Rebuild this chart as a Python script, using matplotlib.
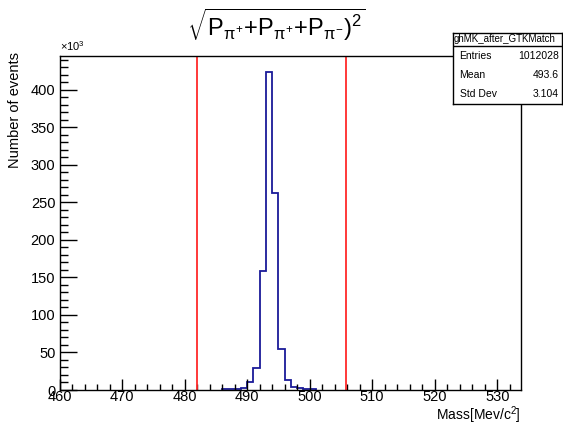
import matplotlib
matplotlib.use('Agg')
import matplotlib.pyplot as plt
import numpy as np
from matplotlib.ticker import MultipleLocator, FuncFormatter

plt.rcParams['font.family'] = ['Liberation Sans', 'DejaVu Sans']
plt.rcParams['mathtext.fontset'] = 'custom'
plt.rcParams['mathtext.rm'] = 'Liberation Sans'
plt.rcParams['mathtext.it'] = 'Liberation Sans'
plt.rcParams['mathtext.bf'] = 'Liberation Sans:bold'

# histogram contents (x10^3 events), 1 MeV bins
bin_edges = [486, 487, 488, 489, 490, 491, 492, 493, 494, 495, 496, 497, 498, 499, 500, 501]
counts = [0.7, 0.7, 0.7, 2.5, 10.0, 29.0, 159.0, 424.0, 262.0, 54.0, 13.0, 4.5, 2.5, 1.0, 1.0]
cut_lo = 482.0
cut_hi = 505.8
stats_name = 'ghMK_after_GTKMatch'
stats_rows = [('Entries', '1012028'), ('Mean', '493.6'), ('Std Dev', '3.104')]

W, H = 563, 424
fig = plt.figure(figsize=(W / 100, H / 100), dpi=100)
L, R, T, B = 59.5, 521, 56, 390
ax = fig.add_axes([L / W, 1 - B / H, (R - L) / W, (B - T) / H])

ax.stairs(counts, bin_edges, color='#1a1a99', lw=1.3)
ax.axvline(cut_lo, color='#ff2a2a', lw=1.3)
ax.axvline(cut_hi, color='#ff2a2a', lw=1.3)

ax.set_xlim(460, 533.8)
ax.set_ylim(0, 445)
ax.xaxis.set_major_locator(MultipleLocator(10))
ax.xaxis.set_minor_locator(MultipleLocator(2))
ax.yaxis.set_major_locator(MultipleLocator(50))
ax.yaxis.set_minor_locator(MultipleLocator(10))
ax.yaxis.set_major_formatter(FuncFormatter(lambda v, p: '%d' % v))
ax.tick_params(which='both', direction='in', top=False, right=False, labelsize=10.5, width=1)
ax.tick_params(axis='x', which='major', length=8, pad=0)
ax.tick_params(axis='x', which='minor', length=4)
ax.tick_params(axis='y', which='major', length=12, pad=3)
ax.tick_params(axis='y', which='minor', length=6)
for s in ax.spines.values():
    s.set_linewidth(1.0)

fig.text(L / W, 1 - 53 / H, r'$\times10^{3}$', fontsize=8, ha='left', va='bottom')
fig.text(15 / W, 1 - 52 / H, 'Number of events', rotation=90, fontsize=10.5, ha='center', va='top')
fig.text(R / W, 1 - 419.5 / H, r'Mass[Mev/c$^{2}$]', fontsize=10, ha='right', va='baseline')
fig.text(276 / W, 1 - 25 / H,
         r'$\sqrt{\mathrm{P}_{\pi^{+}}{+}\mathrm{P}_{\pi^{+}}{+}\mathrm{P}_{\pi^{-}})^{2}}$',
         fontsize=17, ha='center', va='center')

# stats box
bx0, bx1, by0, by1 = 453, 562, 33, 104
box = fig.add_axes([bx0 / W, 1 - by1 / H, (bx1 - bx0) / W, (by1 - by0) / H])
box.set_xticks([])
box.set_yticks([])
box.set_xlim(0, 1)
box.set_ylim(0, 1)
for s in box.spines.values():
    s.set_linewidth(1.0)
sep = 1 - 13 / (by1 - by0)
box.axhline(sep, color='black', lw=1.0)
box.text(0.01, (1 + sep) / 2, stats_name, fontsize=7, ha='left', va='center', clip_on=True)
for i, (k, v) in enumerate(stats_rows):
    y = sep - (i + 0.5) * sep / 3
    box.text(0.06, y, k, fontsize=7.5, ha='left', va='center')
    box.text(0.97, y, v, fontsize=7.5, ha='right', va='center')

fig.savefig('out.png', dpi=100)
